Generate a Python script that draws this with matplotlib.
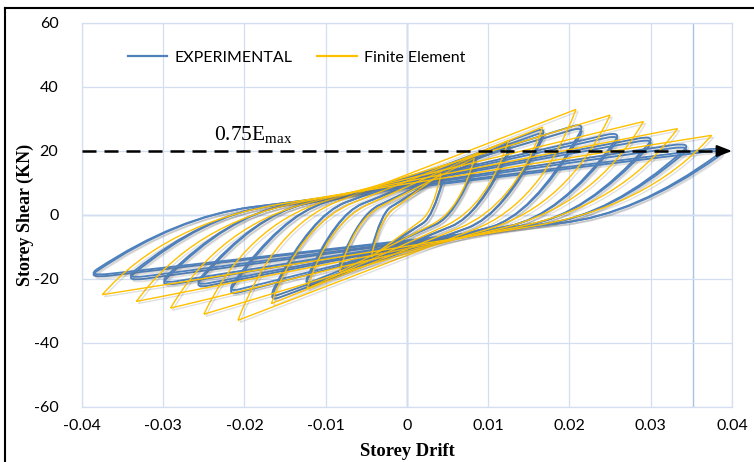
import matplotlib
matplotlib.use("Agg")
import matplotlib.pyplot as plt
import matplotlib.patheffects as pe
from matplotlib.path import Path
from matplotlib.patches import PathPatch
from matplotlib.lines import Line2D

plt.rcParams['mathtext.fontset'] = 'custom'
plt.rcParams['mathtext.rm'] = 'Liberation Serif'
plt.rcParams['axes.unicode_minus'] = False

# experimental cycles: peak drift / shear (two cycles per amplitude)
exp_drift_pos = [0.0046, 0.0087, 0.0130, 0.0172, 0.0220, 0.0265, 0.0307, 0.0352, 0.0396]
exp_shear_pos = [13.0, 18.1, 23.0, 27.5, 29.0, 26.2, 25.0, 22.8, 21.4]
exp_shear_pos_2 = [12.2, 17.0, 21.8, 26.3, 27.8, 25.2, 24.0, 21.8, 20.6]
exp_drift_neg = [-0.0046, -0.0085, -0.0127, -0.0170, -0.0222, -0.0263, -0.0306, -0.0348, -0.0395]
exp_shear_neg = [-13.5, -17.0, -22.8, -27.0, -25.2, -23.0, -22.4, -20.8, -19.8]
exp_shear_neg_2 = [-12.8, -16.2, -21.8, -26.0, -24.2, -22.2, -21.6, -20.0, -19.2]
# point where the unloading curve joins the straight reloading line
exp_pinch_drift = [0.0020, 0.0035, 0.0055, 0.0075, 0.0100, 0.0125, 0.0150, 0.0170, 0.0190]
exp_pinch_shear = [2.5, 3.0, 3.5, 4.0, 4.0, 3.5, 3.0, 2.8, 2.5]

# finite element cycles
fe_drift_pos = [0.0042, 0.0083, 0.0125, 0.0167, 0.0208, 0.0250, 0.0291, 0.0333, 0.0375]
fe_shear_pos = [13.1, 17.8, 23.3, 27.5, 33.0, 31.2, 29.2, 27.0, 24.9]
fe_drift_neg = [-0.0044, -0.0083, -0.0123, -0.0167, -0.0208, -0.0250, -0.0291, -0.0333, -0.0375]
fe_shear_neg = [-13.1, -17.8, -23.0, -27.7, -32.9, -31.0, -29.1, -27.0, -24.9]
fe_pinch_drift = [0.0016, 0.0032, 0.0048, 0.0065, 0.0083, 0.0100, 0.0117, 0.0133, 0.0150]
fe_pinch_shear = [2.0, 2.8, 3.3, 4.0, 4.5, 4.4, 4.1, 3.9, 3.7]

e_075 = 20
x_ticks = [-0.04, -0.03, -0.02, -0.01, 0, 0.01, 0.02, 0.03, 0.04]
x_labels = ['-0.04', '-0.03', '-0.02', '-0.01', '0', '0.01', '0.02', '0.03', '0.04']
y_ticks = [-60, -40, -20, 0, 20, 40, 60]
y_labels = ['-60', '-40', '-20', '0', '20', '40', '60']

BLUE = '#4F81BD'
GOLD = '#FFC000'
GRID = '#D3DFF1'
AXIS = '#8EADDB'


def hysteresis_path(p_neg, p_pos, j_neg, j_pos, bend, corner=0.0, turn=0.0):
    def ctrl(p, j, q):
        cx = p[0] + bend * (j[0] - p[0])
        slope = (q[1] - j[1]) / (q[0] - j[0])
        return (cx, j[1] + slope * (cx - j[0]))

    def towards(a, b, f):
        return (a[0] + f * (b[0] - a[0]), a[1] + f * (b[1] - a[1]))

    c_up = ctrl(p_neg, j_neg, p_pos)
    c_dn = ctrl(p_pos, j_pos, p_neg)
    a_pos = towards(p_pos, j_neg, corner)
    b_pos = towards(p_pos, c_dn, turn)
    a_neg = towards(p_neg, j_pos, corner)
    b_neg = towards(p_neg, c_up, turn)
    verts = [b_neg, c_up, j_neg, a_pos, p_pos, b_pos, c_dn, j_pos, a_neg, p_neg, b_neg]
    codes = [Path.MOVETO, Path.CURVE3, Path.CURVE3, Path.LINETO, Path.CURVE3, Path.CURVE3,
             Path.CURVE3, Path.CURVE3, Path.LINETO, Path.CURVE3, Path.CURVE3]
    return Path(verts, codes)


shadow = [pe.SimpleLineShadow(offset=(1.5, -1.5), shadow_color='0.4', alpha=0.2), pe.Normal()]

fig = plt.figure(figsize=(7.54, 4.62), dpi=100)
ax = fig.add_axes([82 / 754, 1 - 407 / 462, 650 / 754, 384 / 462])

for shears_pos, shears_neg in [(exp_shear_pos, exp_shear_neg), (exp_shear_pos_2, exp_shear_neg_2)]:
    for i in range(len(exp_drift_pos)):
        path = hysteresis_path((exp_drift_neg[i], shears_neg[i]), (exp_drift_pos[i], shears_pos[i]),
                               (-exp_pinch_drift[i], exp_pinch_shear[i]),
                               (exp_pinch_drift[i], -exp_pinch_shear[i]),
                               bend=0.55, corner=0.05, turn=0.12)
        patch = PathPatch(path, fill=False, edgecolor=BLUE, lw=1.35, zorder=3)
        patch.set_path_effects(shadow)
        ax.add_patch(patch)

for i in range(len(fe_drift_pos)):
    path = hysteresis_path((fe_drift_neg[i], fe_shear_neg[i]), (fe_drift_pos[i], fe_shear_pos[i]),
                           (-fe_pinch_drift[i], fe_pinch_shear[i]),
                           (fe_pinch_drift[i], -fe_pinch_shear[i]), bend=0.35)
    patch = PathPatch(path, fill=False, edgecolor=GOLD, lw=1.0, joinstyle='miter', zorder=4)
    patch.set_path_effects(shadow)
    ax.add_patch(patch)

# 0.75 Emax line
ax.plot([-0.04, 0.0388], [e_075, e_075], color='black', lw=1.8, dashes=(5.6, 3.2), zorder=6)
ax.annotate('', xy=(0.04, e_075), xytext=(0.0385, e_075),
            arrowprops=dict(arrowstyle='-|>,head_length=0.9,head_width=0.35', color='black',
                            lw=1.5, shrinkA=0, shrinkB=0), zorder=6)
ax.text(-0.0238, 23.3, r'$\mathrm{0.75E_{max}}$', fontsize=15.5, va='baseline', ha='left')

ax.set_xlim(-0.04, 0.04)
ax.set_ylim(-60, 60)
ax.set_xticks(x_ticks)
ax.set_xticklabels(x_labels)
ax.set_yticks(y_ticks)
ax.set_yticklabels(y_labels)
ax.grid(True, color=GRID, lw=0.9, zorder=0)
ax.axhline(0, color='#A9C3E8', lw=1.0, zorder=1)
ax.axvline(0, color=AXIS, lw=1.0, zorder=1)
ax.axvline(0.0352, color='#A9C3E8', lw=1.0, zorder=1)
for s in ax.spines.values():
    s.set_color(GRID)
    s.set_linewidth(0.9)
ax.tick_params(length=0, labelsize=11.5)
ax.tick_params(axis='y', pad=17)
ax.tick_params(axis='x', pad=9)
for lab in ax.get_xticklabels() + ax.get_yticklabels():
    lab.set_fontfamily('Lato')

handles = [Line2D([], [], color=BLUE, lw=1.6), Line2D([], [], color=GOLD, lw=1.6)]
ax.legend(handles, ['EXPERIMENTAL', 'Finite Element'], ncol=2, frameon=False,
          loc='center left', bbox_to_anchor=(0.07, 0.909), borderaxespad=0, borderpad=0,
          handlelength=2.5, handletextpad=0.45, columnspacing=1.5,
          prop={'family': 'Lato', 'size': 11.5})

fig.text(25 / 754, 1 - 215 / 462, 'Storey Shear (KN)', rotation=90, ha='center', va='center',
         fontsize=13, fontweight='bold', family='Liberation Serif')
fig.text(407 / 754, 1 - 452 / 462, 'Storey Drift', ha='center', va='center',
         fontsize=13.3, fontweight='bold', family='Liberation Serif')

# outer chart border
fig.add_artist(Line2D([5 / 754, 1], [1 - 8 / 462, 1 - 8 / 462], color='black', lw=1.5,
                      transform=fig.transFigure))
fig.add_artist(Line2D([5 / 754, 5 / 754], [0, 1 - 8 / 462], color='black', lw=1.5,
                      transform=fig.transFigure))

fig.savefig('out.png', dpi=100)
